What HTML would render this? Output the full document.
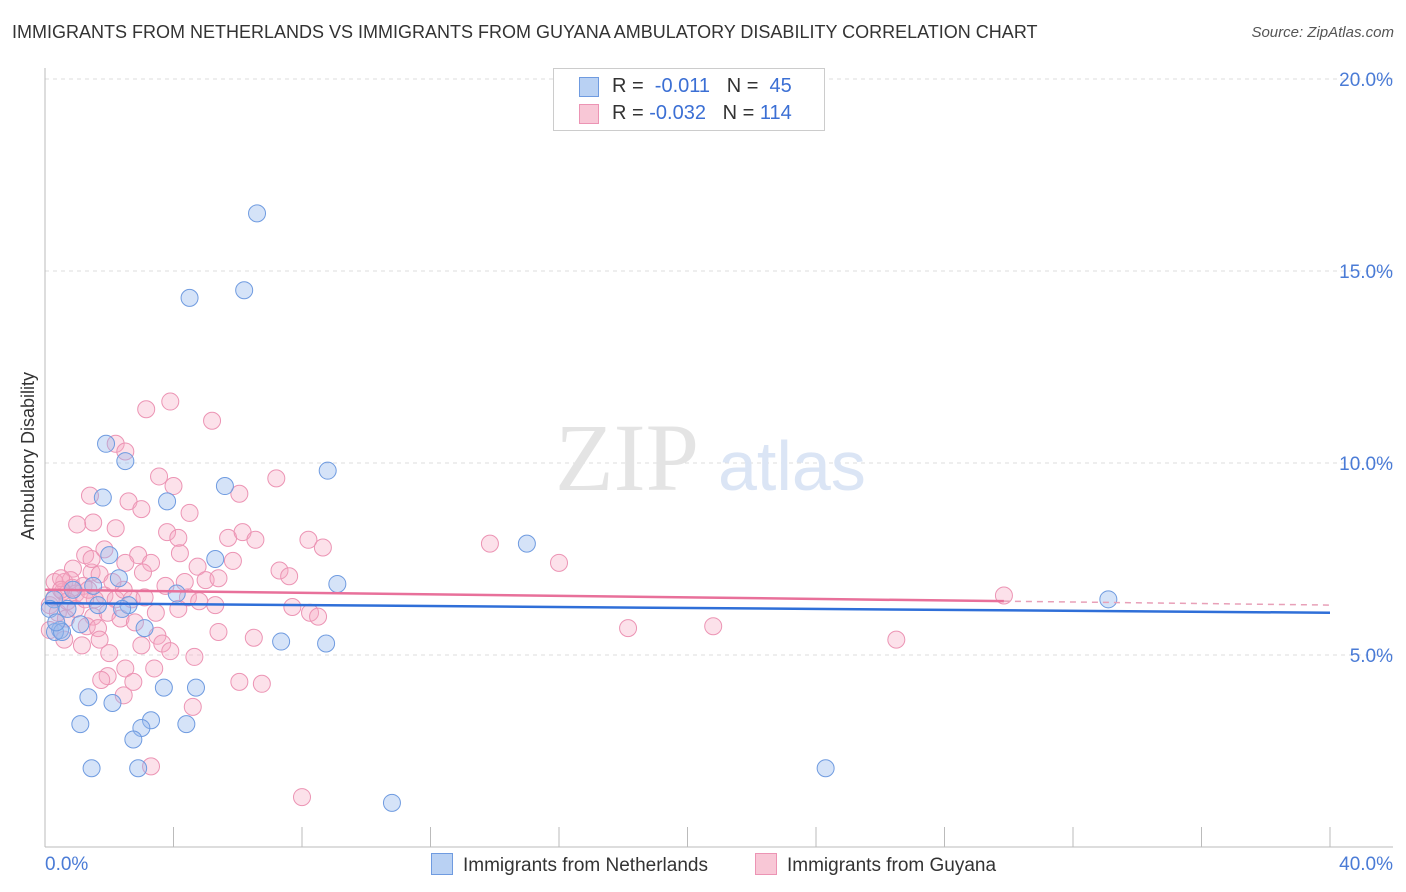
<!DOCTYPE html>
<html><head><meta charset="utf-8"><style>
body{margin:0;background:#fff;font-family:"Liberation Sans",sans-serif;}
#wrap{position:relative;width:1406px;height:892px;overflow:hidden;}
.t{position:absolute;white-space:nowrap;}
</style></head><body>
<div id="wrap">
<div class="t" style="left:12px;top:22px;font-size:18px;color:#333;">IMMIGRANTS FROM NETHERLANDS VS IMMIGRANTS FROM GUYANA AMBULATORY DISABILITY CORRELATION CHART</div>
<div class="t" style="right:12px;top:24px;font-size:15px;color:#555;font-style:italic;">Source: ZipAtlas.com</div>
<svg id="plot" width="1406" height="892" style="position:absolute;left:0;top:0"></svg>
</div>
<script>
const xTickLabels=["0.0%","40.0%"];
const yTicks=[5,10,15,20];
const yTickLabels=["5.0%","10.0%","15.0%","20.0%"];
const blueX=[6.6,4.5,6.2,1.9,2.5,8.8,5.6,1.8,3.8,15.0,2.0,5.3,9.1,2.3,1.5,2.6,2.4,4.1,1.65,0.47,0.31,0.53,1.1,3.1,7.35,8.75,33.1,1.35,2.1,3.7,4.7,1.1,3.3,3.0,4.4,2.75,1.45,2.9,24.3,10.8,0.28,0.15,0.7,0.87,0.35];
const blueY=[16.5,14.3,14.5,10.5,10.05,9.8,9.4,9.1,9.0,7.9,7.6,7.5,6.85,7.0,6.8,6.3,6.2,6.6,6.3,5.65,5.6,5.6,5.8,5.7,5.35,5.3,6.45,3.9,3.75,4.15,4.15,3.2,3.3,3.1,3.2,2.8,2.05,2.05,2.05,1.15,6.45,6.2,6.2,6.7,5.85];
const pinkX=[3.9,3.15,5.2,2.2,2.5,3.55,7.2,1.4,4.0,6.05,2.6,3.0,4.5,1.5,1.0,2.2,3.8,4.15,5.7,6.15,6.55,8.2,8.65,13.85,16.0,1.25,1.85,2.9,4.2,2.5,3.3,4.75,7.3,7.6,0.87,1.45,1.7,3.05,5.0,5.4,3.75,0.6,0.8,1.2,0.56,0.96,1.85,2.2,2.45,2.7,3.1,4.45,5.3,4.15,3.45,7.7,8.25,8.5,29.85,0.15,0.3,0.4,0.65,1.5,1.3,1.65,1.95,3.5,3.65,5.4,6.5,18.15,20.8,26.5,1.15,3.0,2.0,4.65,2.5,3.4,1.95,1.75,2.75,6.05,6.75,2.45,4.6,3.3,8.0,0.15,0.3,0.5,0.7,0.85,1.55,1.35,2.35,2.8,1.7,3.9,4.35,5.85,4.8,0.5,0.95,1.25,2.1,1.45,0.6];
const pinkY=[11.6,11.4,11.1,10.5,10.3,9.65,9.6,9.15,9.4,9.2,9.0,8.8,8.7,8.45,8.4,8.3,8.2,8.05,8.05,8.2,8.0,8.0,7.8,7.9,7.4,7.6,7.75,7.6,7.65,7.4,7.4,7.3,7.2,7.05,7.25,7.15,7.1,7.15,6.95,7.0,6.8,6.9,6.95,6.8,6.65,6.6,6.55,6.45,6.7,6.45,6.5,6.5,6.3,6.2,6.1,6.25,6.1,6.0,6.55,6.3,6.5,6.1,5.95,6.0,5.75,5.7,6.1,5.5,5.3,5.6,5.45,5.7,5.75,5.4,5.25,5.25,5.05,4.95,4.65,4.65,4.45,4.35,4.3,4.3,4.25,3.95,3.65,2.1,1.3,5.65,6.9,7.0,6.4,6.75,6.45,6.7,5.95,5.85,5.4,5.1,6.9,7.45,6.4,6.7,6.2,6.45,6.9,7.5,5.4];
const blueTrend=[6.35,6.1];
const pinkTrend=[6.7,6.3];
const pinkSolidEnd=29.85;

const svg=document.getElementById('plot');
const NS='http://www.w3.org/2000/svg';
const X0=45,X1=1330,Y0=847,Y20=79;
const xs=v=>X0+(v/40)*(X1-X0);
const ys=v=>Y0-(v/20)*(Y0-Y20);
function mk(tag,attrs){const e=document.createElementNS(NS,tag);for(const k in attrs)e.setAttribute(k,attrs[k]);svg.appendChild(e);return e;}
// gridlines
yTicks.forEach((t,i)=>{
 const g=mk('line',{x1:X0,x2:1393,y1:ys(t),y2:ys(t),stroke:'#ddd','stroke-dasharray':'4,4'});
 
 
 const tx=mk('text',{x:1393,y:ys(t)+7,'text-anchor':'end','font-size':19,fill:'#4a7bd6','font-family':'Liberation Sans'});
 tx.textContent=yTickLabels[i];
 
 
});
// axes
const ax=mk('line',{x1:X0,x2:X0,y1:68,y2:Y0,stroke:'#bbb'});


const bx=mk('line',{x1:X0,x2:1393,y1:Y0,y2:Y0,stroke:'#bbb'});


for(let i=0;i<=10;i++){const tk=mk('line',{x1:xs(i*4),x2:xs(i*4),y1:Y0,y2:Y0-20,stroke:'#bbb'});
 
 }
const xl0=mk('text',{x:45,y:870,'font-size':19,fill:'#4a7bd6','font-family':'Liberation Sans'});xl0.textContent=xTickLabels[0];


const xl1=mk('text',{x:1393,y:870,'text-anchor':'end','font-size':19,fill:'#4a7bd6','font-family':'Liberation Sans'});xl1.textContent=xTickLabels[1];


const yt=mk('text',{x:34,y:456,'font-size':18,fill:'#333','text-anchor':'middle',transform:'rotate(-90 34 456)','font-family':'Liberation Sans'});yt.textContent='Ambulatory Disability';


// watermark
const wm=mk('text',{x:555,y:490,'font-size':96,fill:'#e4e4e4','font-family':'Liberation Serif'});wm.textContent='ZIP';


const wm2=mk('text',{x:718,y:490,'font-size':70,fill:'#dbe5f5','font-family':'Liberation Sans'});wm2.textContent='atlas';


// points
pinkX.forEach((v,i)=>{const c=mk('circle',{cx:xs(v),cy:ys(pinkY[i]),r:8.5,fill:'rgba(245,170,196,0.35)',stroke:'#ec94b4','stroke-width':1});
 
 });
blueX.forEach((v,i)=>{const c=mk('circle',{cx:xs(v),cy:ys(blueY[i]),r:8.5,fill:'rgba(150,186,238,0.4)',stroke:'#6f9be0','stroke-width':1});
 
 });
// trends
const bt=mk('line',{x1:xs(0),y1:ys(blueTrend[0]),x2:xs(40),y2:ys(blueTrend[1]),stroke:'#2f6fd8','stroke-width':2.5});


const pAt=v=>pinkTrend[0]+(pinkTrend[1]-pinkTrend[0])*v/40;
const pt=mk('line',{x1:xs(0),y1:ys(pinkTrend[0]),x2:xs(pinkSolidEnd),y2:ys(pAt(pinkSolidEnd)),stroke:'#e8709a','stroke-width':2.5});


const pd=mk('line',{x1:xs(pinkSolidEnd),y1:ys(pAt(pinkSolidEnd)),x2:xs(40),y2:ys(pinkTrend[1]),stroke:'#e8a0b8','stroke-width':1.5,'stroke-dasharray':'6,5'});


</script>
<div class="t" style="left:553px;top:68px;width:270px;height:61px;border:1px solid #ccc;background:#fff;font-size:20px;">
 <div style="position:absolute;left:25px;top:8px;width:18px;height:18px;background:#b9d1f3;border:1px solid #6f9be0;"></div>
 <div style="position:absolute;left:58px;top:6px;color:#333;">R = <span style="color:#3b6fd4">&nbsp;-0.011</span>&nbsp;&nbsp;&nbsp;N = <span style="color:#3b6fd4">&nbsp;45</span></div>
 <div style="position:absolute;left:25px;top:35px;width:18px;height:18px;background:#f8c7d6;border:1px solid #ec94b4;"></div>
 <div style="position:absolute;left:58px;top:33px;color:#333;">R = <span style="color:#3b6fd4">-0.032</span>&nbsp;&nbsp;&nbsp;N = <span style="color:#3b6fd4">114</span></div>
</div>
<div class="t" style="left:431px;top:853px;font-size:19px;color:#333;">
 <span style="display:inline-block;width:20px;height:20px;background:#b9d1f3;border:1px solid #6f9be0;vertical-align:-4px;margin-right:10px;"></span>Immigrants from Netherlands</div>
<div class="t" style="left:755px;top:853px;font-size:19px;color:#333;">
 <span style="display:inline-block;width:20px;height:20px;background:#f8c7d6;border:1px solid #ec94b4;vertical-align:-4px;margin-right:10px;"></span>Immigrants from Guyana</div>
</body></html>
